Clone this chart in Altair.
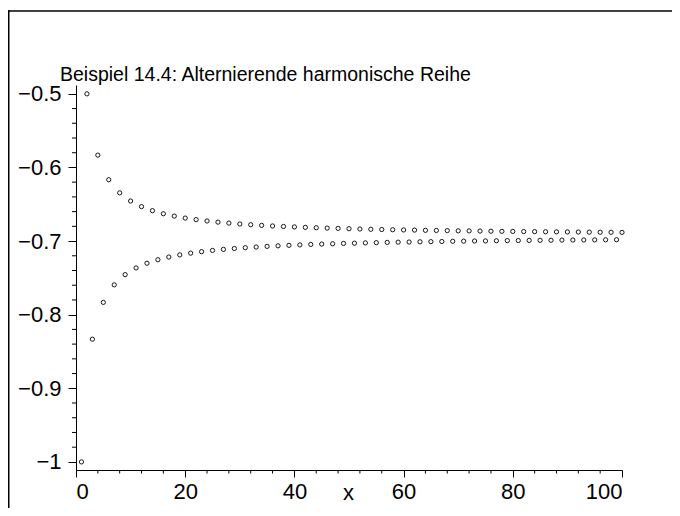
import altair as alt
import pandas as pd

# partial sums of the (negated) alternating harmonic series, n = 1..100
n_values = list(range(1, 101))
s_values = [
    -1.0000, -0.5000, -0.8333, -0.5833, -0.7833, -0.6167, -0.7595, -0.6345, -0.7456, -0.6456,
    -0.7365, -0.6532, -0.7301, -0.6587, -0.7254, -0.6629, -0.7217, -0.6661, -0.7188, -0.6688,
    -0.7164, -0.6709, -0.7144, -0.6727, -0.7127, -0.6743, -0.7113, -0.6756, -0.7101, -0.6768,
    -0.7090, -0.6778, -0.7081, -0.6787, -0.7072, -0.6795, -0.7065, -0.6802, -0.7058, -0.6808,
    -0.7052, -0.6814, -0.7046, -0.6819, -0.7041, -0.6824, -0.7037, -0.6828, -0.7032, -0.6832,
    -0.7029, -0.6836, -0.7025, -0.6840, -0.7022, -0.6843, -0.7018, -0.6846, -0.7015, -0.6849,
    -0.7013, -0.6851, -0.7010, -0.6854, -0.7008, -0.6856, -0.7006, -0.6858, -0.7003, -0.6861,
    -0.7001, -0.6862, -0.6999, -0.6864, -0.6998, -0.6866, -0.6996, -0.6868, -0.6994, -0.6869,
    -0.6993, -0.6871, -0.6991, -0.6872, -0.6990, -0.6874, -0.6989, -0.6875, -0.6987, -0.6876,
    -0.6986, -0.6877, -0.6985, -0.6879, -0.6984, -0.6880, -0.6983, -0.6881, -0.6982, -0.6882,
]

x_major = [0, 20, 40, 60, 80, 100]
x_minor = [v for v in range(0, 101, 4) if v % 20 != 0]
y_major = [-1.0, -0.9, -0.8, -0.7, -0.6, -0.5]
y_minor = [round(-1 + 0.02 * i, 2) for i in range(26) if i % 5 != 0]

title_text = "Beispiel 14.4: Alternierende harmonische Reihe"

W, H = 546, 385
FONT = "Liberation Sans"

df = pd.DataFrame({"n": n_values, "s": s_values})
xs = alt.Scale(domain=[0, 100], nice=False, zero=False)
ys = alt.Scale(domain=[-1.011, -0.488], nice=False, zero=False)

x_axis = alt.Axis(
    values=x_major, tickSize=7, labelPadding=4, title="x",
    titleX=272, titleY=29, titleBaseline="alphabetic", titleAlign="center",
    titleFontWeight="normal", titleFontSize=22, titleFont=FONT, titleColor="black",
)
y_axis = alt.Axis(values=y_major, tickSize=8, labelPadding=7, title=None, format="~g")

one = pd.DataFrame({"a": [0]})
frame_left = alt.Chart(one).mark_rect(color="black", strokeWidth=0).encode(
    x=alt.value(-68), x2=alt.value(-66.5), y=alt.value(-74.75), y2=alt.value(430)
)
frame_top = alt.Chart(one).mark_rect(color="black", strokeWidth=0).encode(
    y=alt.value(-74.75), y2=alt.value(-73.25), x=alt.value(-68), x2=alt.value(596)
)

points = alt.Chart(df).mark_point(
    shape="circle", filled=False, color="black", size=18, strokeWidth=0.9, opacity=1
).encode(
    x=alt.X("n:Q", scale=xs, axis=x_axis),
    y=alt.Y("s:Q", scale=ys, axis=y_axis),
)

xminor = alt.Chart(pd.DataFrame({"v": x_minor})).mark_rule(color="black", strokeWidth=1).encode(
    x=alt.X("v:Q", scale=xs, axis=x_axis), y=alt.value(H), y2=alt.value(H + 3.5)
)
yminor = alt.Chart(pd.DataFrame({"v": y_minor})).mark_rule(color="black", strokeWidth=1).encode(
    y=alt.Y("v:Q", scale=ys, axis=y_axis), x=alt.value(-4), x2=alt.value(0)
)

title = alt.Chart(pd.DataFrame({"t": [title_text]})).mark_text(
    align="left", baseline="alphabetic", font=FONT, fontSize=19.5, color="black"
).encode(text="t:N", x=alt.value(-16), y=alt.value(-4.5))

chart = alt.layer(frame_left, frame_top, xminor, yminor, points, title).properties(
    width=W, height=H,
    autosize=alt.AutoSizeParams(type="none"),
    padding={"left": 68, "top": 77, "right": 50, "bottom": 38},
).configure(background="white").configure_view(
    strokeWidth=0, stroke="transparent"
).configure_axis(
    grid=False, domainColor="black", domainWidth=1, tickColor="black", tickWidth=1,
    labelColor="black", labelFont=FONT, labelFontSize=22,
)

chart.save("out.html", embed_options={"renderer": "svg", "actions": False})
